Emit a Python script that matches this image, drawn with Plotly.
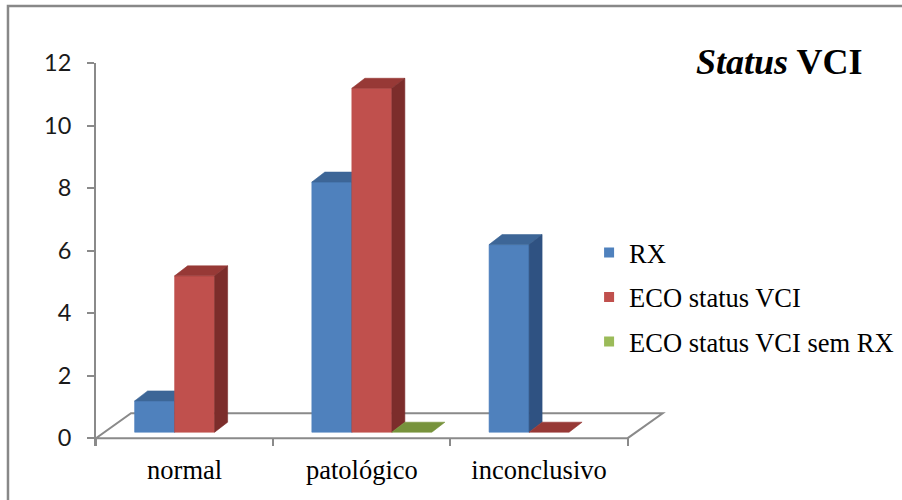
import plotly.graph_objects as go

# ---- data -------------------------------------------------------------
categories = ["normal", "patológico", "inconclusivo"]
series_names = ["RX", "ECO status VCI", "ECO status VCI sem RX"]
rx_values = [1, 8, 6]
eco_values = [5, 11, 0]
eco_sem_rx_values = [None, 0, None]
y_tick_values = [0, 2, 4, 6, 8, 10, 12]
chart_title = "<b><i>Status</i> VCI</b>"

# ---- styling ----------------------------------------------------------
front_colors = ["#4F81BD", "#C0504D", "#9BBB59"]
top_colors = ["#3D6697", "#973936", "#77933C"]
side_colors = ["#2F5282", "#7C2D2B", "#5E7630"]
axis_grey = "#8A8A8A"

W, H = 902, 500
ML, MT = 96, 63
X_MIN, X_MAX = 0.0, 3.25
Y_MIN, Y_MAX = -0.25, 12.0
PX_X = 177.2          # pixels per category
PX_Y = 31.3           # pixels per value unit
plot_w = (X_MAX - X_MIN) * PX_X
plot_h = (Y_MAX - Y_MIN) * PX_Y
MR = W - ML - plot_w
MB = H - MT - plot_h

# 3-D look, expressed in axis units
bar_w = 40 / PX_X
plane_dx, plane_dy = 10 / PX_X, 6 / PX_Y      # bars stand a bit behind the floor's front edge
depth_dx, depth_dy = 13 / PX_X, 10 / PX_Y     # bar depth
floor_dx, floor_dy = 35 / PX_X, 25 / PX_Y     # floor depth


def px_to_paper_x(px):
    return (px - ML) / plot_w


def px_to_paper_y(py):
    return (H - MB - py) / plot_h


fig = go.Figure()

all_series = [rx_values, eco_values, eco_sem_rx_values]
n_series = len(all_series)

# faces of each bar: drawn left to right so nearer faces cover farther ones
for j, values in enumerate(all_series):
    fx, fy, tx, ty, sx, sy = [], [], [], [], [], []
    for i, v in enumerate(values):
        if v is None:
            continue
        xl = i + 0.5 + plane_dx + (j - n_series / 2) * bar_w
        xr = xl + bar_w
        b = plane_dy
        t = b + v
        if v > 0:
            fx += [xl, xr, xr, xl, xl, None]
            fy += [b, b, t, t, b, None]
            sx += [xr, xr + depth_dx, xr + depth_dx, xr, xr, None]
            sy += [b, b + depth_dy, t + depth_dy, t, b, None]
        tx += [xl, xr, xr + depth_dx, xl + depth_dx, xl, None]
        ty += [t, t, t + depth_dy, t + depth_dy, t, None]
    for xs, ys, col in ((fx, fy, front_colors[j]), (tx, ty, top_colors[j]), (sx, sy, side_colors[j])):
        if not xs:
            continue
        fig.add_trace(go.Scatter(
            x=xs, y=ys, mode="lines", fill="toself", fillcolor=col,
            line=dict(color=col, width=0.6), showlegend=False, hoverinfo="skip",
        ))

# legend entries
for j, name in enumerate(series_names):
    fig.add_trace(go.Scatter(
        x=[None], y=[None], mode="markers", name=name, legendgroup=name,
        marker=dict(symbol="square", size=10, color=front_colors[j]),
    ))

n_cat = len(categories)
floor_path = (
    f"M 0,0 L {n_cat},0 L {n_cat + floor_dx},{floor_dy} "
    f"L {floor_dx},{floor_dy} Z"
)

fig.update_layout(
    width=W, height=H,
    margin=dict(l=ML, r=MR, t=MT, b=MB, pad=0, autoexpand=False),
    paper_bgcolor="white", plot_bgcolor="white",
    showlegend=True,
    legend=dict(
        x=px_to_paper_x(589), y=px_to_paper_y(229), xanchor="left", yanchor="top",
        font=dict(family="Liberation Serif", size=26.5, color="#000000"),
        bgcolor="rgba(0,0,0,0)", tracegroupgap=7, itemwidth=30,
    ),
    xaxis=dict(
        range=[X_MIN, X_MAX], showgrid=False, zeroline=False, showline=False,
        tickvals=[i + 0.5 for i in range(n_cat)], ticktext=categories, ticks="",
        tickfont=dict(family="Liberation Serif", size=26.5, color="#000000"),
        ticklabelstandoff=5,
        minor=dict(tickvals=list(range(n_cat + 1)), ticks="inside", ticklen=8,
                   tickwidth=2, tickcolor=axis_grey, showgrid=False),
        fixedrange=True,
    ),
    yaxis=dict(
        range=[Y_MIN, Y_MAX], showgrid=False, zeroline=False,
        showline=True, linecolor=axis_grey, linewidth=2,
        tickvals=y_tick_values, ticks="outside", ticklen=7, tickwidth=2, tickcolor=axis_grey,
        tickfont=dict(family="Lato", size=23.5, color="#1A1A1A"),
        ticklabelstandoff=11, fixedrange=True,
    ),
    shapes=[
        dict(type="path", path=floor_path, xref="x", yref="y", layer="below",
             line=dict(color=axis_grey, width=2), fillcolor="rgba(0,0,0,0)"),
        dict(type="rect", xref="paper", yref="paper",
             x0=px_to_paper_x(8), x1=px_to_paper_x(W + 10),
             y0=px_to_paper_y(H + 10), y1=px_to_paper_y(6),
             line=dict(color="#888888", width=2.5), fillcolor="rgba(0,0,0,0)", layer="below"),
    ],
    annotations=[
        dict(text=chart_title, xref="paper", yref="paper",
             x=px_to_paper_x(779), y=px_to_paper_y(62), xanchor="center", yanchor="middle",
             showarrow=False, font=dict(family="Liberation Serif", size=36, color="#000000")),
    ],
)

fig.write_html("out.html")
